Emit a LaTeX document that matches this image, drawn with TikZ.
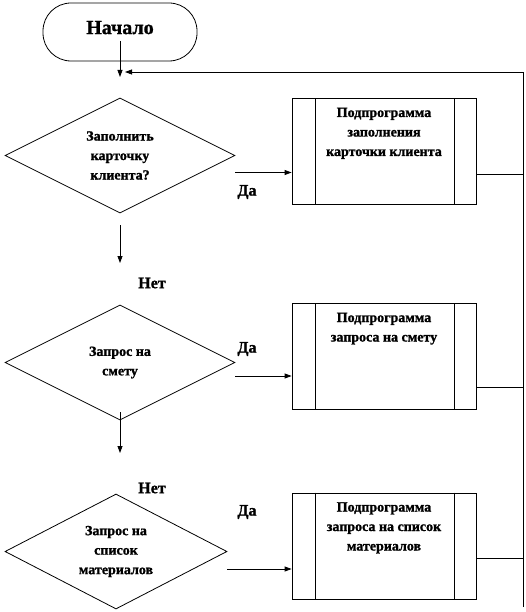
\documentclass[tikz,border=0pt]{standalone}
\usepackage{fontspec}
\setmainfont{Liberation Serif}[BoldFeatures={FakeBold=1.2}]
\usetikzlibrary{positioning, arrows.meta, shapes.geometric, calc}

\begin{document}
\begin{tikzpicture}[
  x=1pt, y=-1pt, line width=0.8pt,
  terminal/.style={draw, rounded corners=28pt, minimum width=154pt, minimum height=58pt,
                   font=\bfseries\fontsize{20}{24}\selectfont},
  decision/.style={draw, diamond, aspect=2, inner sep=0pt, minimum height=115pt, align=center,
                   font=\bfseries\fontsize{14}{19.5}\selectfont},
  subbox/.style={draw, minimum width=184pt, minimum height=106pt},
  boxtext/.style={align=center, font=\bfseries\fontsize{14}{19.5}\selectfont},
  answer/.style={font=\bfseries\fontsize{16}{19}\selectfont},
  arrow/.style={-{Triangle[length=7pt,width=5pt]}},
]
  \useasboundingbox (0,0) rectangle (525,612);

  % start and loop join
  \node[terminal, text depth=9pt] (start) at (120,32) {Начало};
  \coordinate (join) at (120,77);
  \coordinate (loopend) at (125,72);
  \coordinate (railtop) at (523,72);
  \coordinate (railbot) at (523,607);

  % decisions
  \node[decision, minimum width=230pt] (d1) at (120,155.5) {Заполнить\\карточку\\клиента?};
  \node[decision, minimum width=230pt] (d2) at (120,362.5) {Запрос на\\смету};
  \node[decision, minimum width=222pt] (d3) at (116,551.5) {Запрос на\\список\\материалов};
  \coordinate (n1) at (120,263);
  \coordinate (n2) at (120,453);

  % subprograms
  \node[subbox] (p1) at (384,151.5) {};
  \node[subbox] (p2) at (384,356.5) {};
  \node[subbox] (p3) at (384,546) {};
  \node[boxtext, below=6pt of p1.north] (t1) {Подпрограмма\\заполнения\\карточки клиента};
  \node[boxtext, below=6pt of p2.north] (t2) {Подпрограмма\\запроса на смету};
  \node[boxtext, below=6pt of p3.north] (t3) {Подпрограмма\\запроса на список\\материалов};
  \foreach \p in {p1,p2,p3} {
    \draw ([xshift=24pt]\p.north west) -- ([xshift=24pt]\p.south west);
    \draw ([xshift=-22pt]\p.north east) -- ([xshift=-22pt]\p.south east);
  }

  % answers
  \node[answer] (yes1) at (247,192) {Да};
  \node[answer] (no1) at (152,283) {Нет};
  \node[answer] (yes2) at (247,349) {Да};
  \node[answer] (no2) at (152,488) {Нет};
  \node[answer] (yes3) at (247,512) {Да};

  % connectors
  \draw[arrow] ([yshift=-9pt]start.center) -- (join);
  \draw[arrow] ([yshift=-12pt]d1.south) -- (n1);
  \draw[arrow] ([yshift=8pt]d2.south) -- (n2);
  \draw[arrow] ([yshift=-17pt]d1.east) -- ([yshift=-17pt]d1.east -| p1.west);
  \draw[arrow] ([yshift=-13.5pt]d2.east) -- ([yshift=-13.5pt]d2.east -| p2.west);
  \draw[arrow] ([yshift=-17.5pt]d3.east) -- ([yshift=-17.5pt]d3.east -| p3.west);
  \draw ([yshift=-22.5pt]p1.east) -- ([yshift=-22.5pt]p1.east -| railtop);
  \draw ([yshift=-30.5pt]p2.east) -- ([yshift=-30.5pt]p2.east -| railtop);
  \draw ([yshift=-12pt]p3.east) -- ([yshift=-12pt]p3.east -| railtop);
  \draw (railbot) -- (railtop);
  \draw[arrow] (railtop) -- (loopend);
\end{tikzpicture}
\end{document}
